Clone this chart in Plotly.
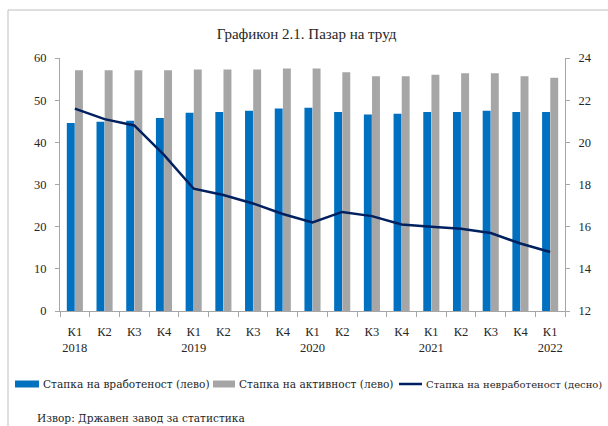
import plotly.graph_objects as go

quarters = ["К1", "К2", "К3", "К4", "К1", "К2", "К3", "К4", "К1", "К2", "К3", "К4", "К1", "К2", "К3", "К4", "К1"]
years = ["2018", "", "", "", "2019", "", "", "", "2020", "", "", "", "2021", "", "", "", "2022"]

employment = [44.6, 44.9, 45.1, 45.8, 47.0, 47.2, 47.5, 48.0, 48.2, 47.2, 46.6, 46.8, 47.2, 47.2, 47.5, 47.2, 47.2]
activity = [57.1, 57.1, 57.1, 57.1, 57.3, 57.3, 57.3, 57.5, 57.5, 56.6, 55.7, 55.7, 56.0, 56.4, 56.4, 55.7, 55.3]
unemployment = [21.6, 21.1, 20.8, 19.4, 17.8, 17.5, 17.1, 16.6, 16.2, 16.7, 16.5, 16.1, 16.0, 15.9, 15.7, 15.2, 14.8]

left_ticks = [0, 10, 20, 30, 40, 50, 60]
right_ticks = [12, 14, 16, 18, 20, 22, 24]

names = ["Стапка на вработеност (лево)", "Стапка на активност (лево)", "Стапка на невработеност (десно)"]
colors = ["#0070C0", "#A6A6A6", "#002060"]
source = "Извор: Државен завод за статистика"
title = "Графикон 2.1. Пазар на труд"

x = list(range(len(quarters)))
ticktext = [q + ("<br>" + y if y else "") for q, y in zip(quarters, years)]

FONT = "Liberation Serif"
LFONT = "DejaVu Serif"
TXT = "#262626"
AX = "#A6A6A6"

W, H = 608, 426
L, R, T, B = 60, 43, 58, 115
PW, PH = W - L - R, H - T - B


def px(xp):
    return (xp - L) / PW


def py(yp):
    return (H - B - yp) / PH


fig = go.Figure()
fig.add_trace(go.Bar(x=x, y=employment, name=names[0], marker=dict(color=colors[0], line=dict(width=0))))
fig.add_trace(go.Bar(x=x, y=activity, name=names[1], marker=dict(color=colors[1], line=dict(width=0))))
fig.add_trace(go.Scatter(x=x, y=unemployment, name=names[2], mode="lines", yaxis="y2",
                         line=dict(color=colors[2], width=2.5)))

# manual legend (swatches + labels) laid out in pixel positions
legend_y = 384
sw = [(15, 39, "rect"), (213, 235, "rect"), (399, 422, "line")]
text_x = [41, 237, 424]
lsizes = [10.6, 10.6, 10.0]

shapes = [dict(type="rect", xref="paper", yref="paper",
               x0=px(8), x1=px(640), y0=py(440), y1=py(10),
               line=dict(color="#BFBFBF", width=1), fillcolor="rgba(0,0,0,0)", layer="below")]
annotations = []
for (a, b, kind), c, n, tx, ls in zip(sw, colors, names, text_x, lsizes):
    if kind == "rect":
        shapes.append(dict(type="rect", xref="paper", yref="paper", x0=px(a), x1=px(b),
                           y0=py(legend_y + 3.5), y1=py(legend_y - 3.5),
                           line=dict(width=0), fillcolor=c))
    else:
        shapes.append(dict(type="line", xref="paper", yref="paper", x0=px(a), x1=px(b),
                           y0=py(legend_y), y1=py(legend_y), line=dict(color=c, width=2.5)))
    annotations.append(dict(text=n, xref="paper", yref="paper", x=px(tx), y=py(legend_y),
                            xanchor="left", yanchor="middle", showarrow=False,
                            font=dict(size=ls, family=LFONT, color=TXT)))

annotations.append(dict(text=source, xref="paper", yref="paper", x=px(35), y=py(418),
                        xanchor="left", yanchor="middle", showarrow=False,
                        font=dict(size=10.6, family=LFONT, color=TXT)))

fig.update_layout(
    width=W, height=H,
    margin=dict(l=L, r=R, t=T, b=B),
    paper_bgcolor="white", plot_bgcolor="white",
    font=dict(family=FONT, size=12.5, color=TXT),
    barmode="group", bargap=0.45, bargroupgap=0.03,
    showlegend=False,
    title=dict(text=title, x=306.5 / W, xref="container", xanchor="center",
               y=1 - 34 / H, yref="container", yanchor="middle",
               font=dict(size=15, family=FONT, color=TXT)),
    xaxis=dict(
        range=[-0.5, len(x) - 0.5], tickmode="array", tickvals=x, ticktext=ticktext,
        ticks="", showline=True, linecolor=AX, linewidth=1, showgrid=False, zeroline=False,
        tickfont=dict(size=12.5), ticklabelstandoff=9,
        minor=dict(tickmode="array", tickvals=[i - 0.5 for i in x] + [len(x) - 0.5],
                   ticks="outside", ticklen=5, tickcolor=AX, tickwidth=1, showgrid=False),
    ),
    yaxis=dict(
        range=[0, 60], tickmode="array", tickvals=left_ticks, showgrid=False, zeroline=False,
        showline=True, linecolor=AX, linewidth=1, ticks="outside", ticklen=4, tickcolor=AX,
        tickfont=dict(size=12.5), ticklabelstandoff=6,
    ),
    yaxis2=dict(
        range=[12, 24], tickmode="array", tickvals=right_ticks, overlaying="y", side="right",
        showgrid=False, zeroline=False, showline=True, linecolor=AX, linewidth=1,
        ticks="outside", ticklen=4, tickcolor=AX, tickfont=dict(size=12.5), ticklabelstandoff=6,
    ),
    shapes=shapes,
    annotations=annotations,
)

fig.write_html("out.html", config={"displayModeBar": False},
               post_script="document.body.style.margin='0';document.body.style.overflow='hidden';")
